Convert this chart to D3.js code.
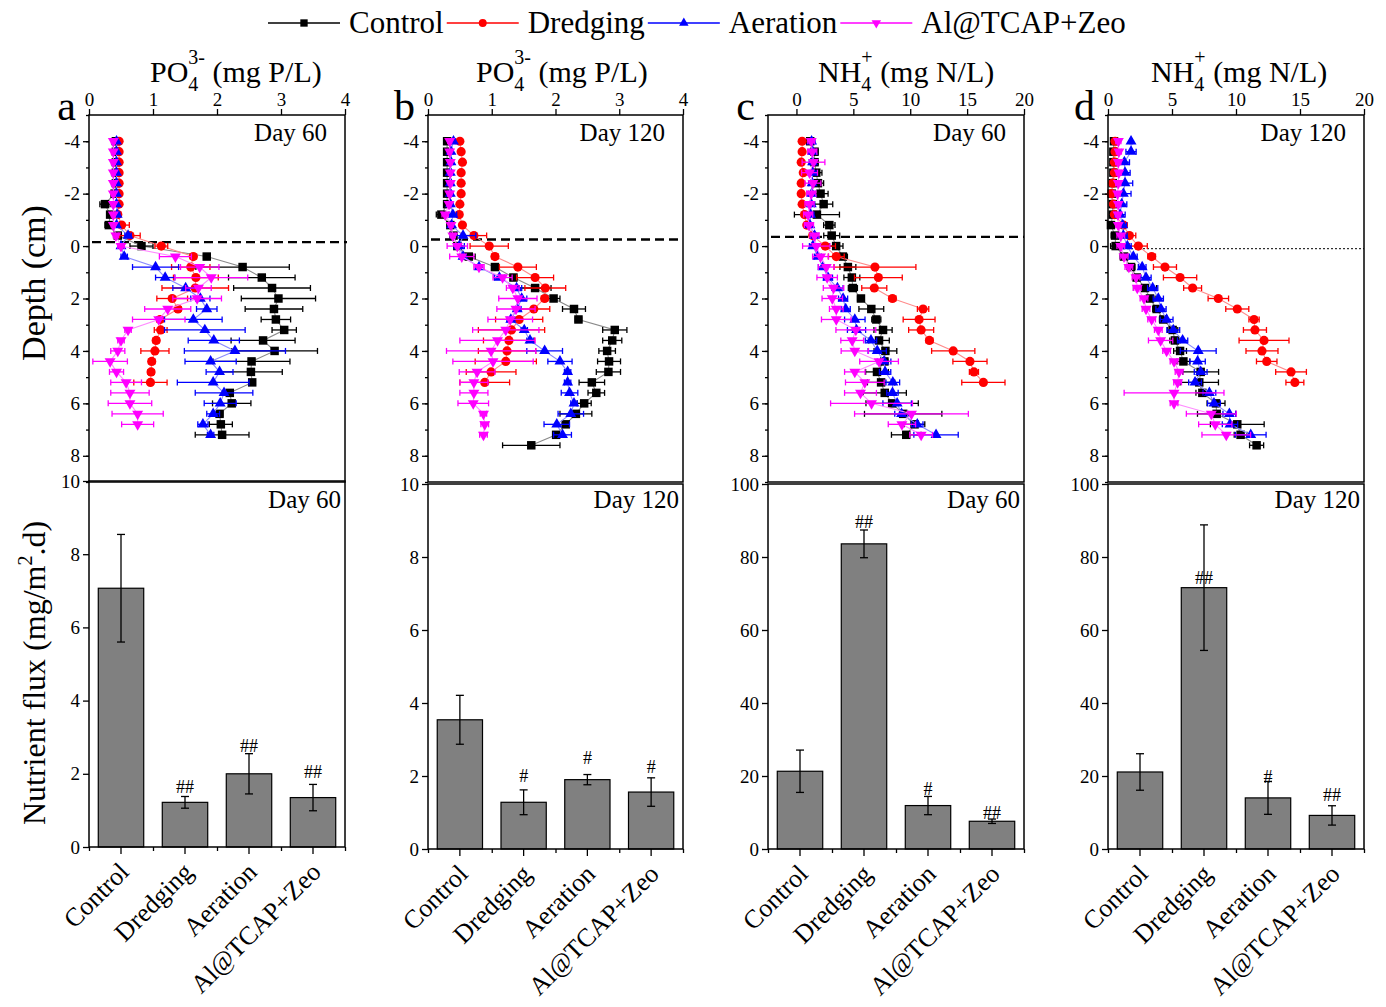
<!DOCTYPE html>
<html>
<head>
<meta charset="utf-8">
<script src="https://cdn.jsdelivr.net/npm/d3@7"></script>
<style>
  body { margin: 0; background: #fff; }
  text { font-family: "Liberation Serif", "Times New Roman", serif; fill: #000; }
</style>
</head>
<body>
<svg id="chart" width="1386" height="1007"></svg>
<script>
// ---------- data ----------
// sampling depths of the pore-water profiles (cm, negative = overlying water)
const depth = d3.range(30).map(i => +(-4 + 0.4 * i).toFixed(1));
const treatments = ["Control", "Dredging", "Aeration", "Al@TCAP+Zeo"];

// PO4 profiles, day 60 (mg P/L)
const aCtrl   = [0.42,0.42,0.42,0.42,0.42,0.40,0.25,0.33,0.31,0.45,0.82,1.84,2.40,2.70,2.86,2.96,2.89,2.92,3.05,2.72,2.90,2.54,2.53,2.55,2.20,2.23,2.04,2.06,2.08];
const aCtrlSd = [0.02,0.02,0.02,0.02,0.02,0.02,0.08,0.05,0.06,0.05,0.18,0.05,0.73,0.52,0.60,0.58,0.45,0.23,0.19,0.50,0.67,0.60,0.49,0.05,0.05,0.30,0.05,0.18,0.42];
const aDred   = [0.47,0.47,0.47,0.47,0.47,0.47,0.47,0.45,0.51,0.64,1.13,1.63,1.59,1.67,1.66,1.30,1.39,1.11,1.12,1.05,1.03,0.98,0.97,0.96];
const aDredSd = [0.02,0.02,0.02,0.02,0.02,0.02,0.02,0.02,0.12,0.16,0.10,0.05,0.30,0.35,0.52,0.24,0.05,0.05,0.10,0.05,0.22,0.05,0.05,0.26];
const aAer    = [0.43,0.43,0.43,0.43,0.43,0.43,0.43,0.44,0.43,0.61,0.50,0.55,1.04,1.19,1.51,1.74,1.84,1.63,1.81,1.95,2.28,1.90,2.04,1.94,2.11,2.05,1.94,1.78,1.90];
const aAerSd  = [0.03,0.03,0.03,0.03,0.03,0.03,0.03,0.04,0.04,0.05,0.05,0.05,0.36,0.15,0.20,0.15,0.16,0.45,0.63,0.40,0.79,0.40,0.21,0.56,0.45,0.25,0.10,0.08,0.05];
const aAl     = [0.38,0.38,0.38,0.38,0.38,0.38,0.38,0.38,0.38,0.42,0.50,1.35,1.73,1.91,1.71,1.69,1.23,1.09,0.61,0.50,0.45,0.33,0.43,0.58,0.64,0.64,0.76,0.76];
const aAlSd   = [0.03,0.03,0.03,0.03,0.03,0.03,0.03,0.03,0.03,0.04,0.05,0.25,0.30,0.57,0.20,0.38,0.36,0.41,0.05,0.05,0.11,0.27,0.11,0.24,0.30,0.34,0.40,0.25];

// PO4 profiles, day 120 (mg P/L)
const bCtrl   = [0.30,0.30,0.30,0.30,0.30,0.30,0.30,0.21,0.35,0.40,0.46,0.64,1.05,1.34,1.68,1.97,2.29,2.36,2.93,2.89,2.81,2.84,2.83,2.57,2.64,2.45,2.32,2.16,2.01,1.62];
const bCtrlSd = [0.02,0.02,0.02,0.02,0.02,0.02,0.02,0.08,0.03,0.03,0.05,0.10,0.05,0.05,0.25,0.10,0.18,0.05,0.19,0.15,0.13,0.18,0.19,0.20,0.13,0.11,0.25,0.05,0.05,0.45];
const bDred   = [0.50,0.52,0.54,0.52,0.52,0.52,0.50,0.49,0.54,0.72,0.96,1.05,1.41,1.68,1.84,1.83,1.66,1.43,1.31,1.27,1.24,1.22,0.99,0.89];
const bDredSd = [0.02,0.02,0.02,0.02,0.02,0.02,0.02,0.02,0.02,0.20,0.30,0.05,0.29,0.29,0.32,0.05,0.25,0.37,0.52,0.40,0.45,0.48,0.39,0.39];
const bAer    = [0.40,0.36,0.36,0.35,0.35,0.35,0.35,0.39,0.37,0.55,0.49,0.55,0.80,1.12,1.39,1.47,1.40,1.30,1.51,1.60,1.83,2.07,2.19,2.19,2.22,2.29,2.24,2.02,2.11];
const bAerSd  = [0.03,0.03,0.03,0.04,0.05,0.04,0.04,0.06,0.03,0.20,0.08,0.05,0.05,0.08,0.08,0.08,0.06,0.06,0.05,0.05,0.28,0.19,0.05,0.05,0.13,0.05,0.20,0.20,0.14];
const bAl     = [0.34,0.34,0.35,0.35,0.35,0.34,0.33,0.27,0.36,0.39,0.46,0.53,0.80,1.17,1.33,1.41,1.38,1.29,1.22,1.09,0.99,1.02,0.77,0.72,0.72,0.71,0.87,0.89,0.87];
const bAlSd   = [0.03,0.03,0.03,0.03,0.03,0.03,0.03,0.05,0.03,0.04,0.16,0.19,0.08,0.15,0.10,0.30,0.30,0.35,0.52,0.59,0.70,0.63,0.28,0.22,0.22,0.24,0.05,0.06,0.06];

// NH4 profiles, day 60 (mg N/L)
const cCtrl   = [1.21,1.59,1.59,1.74,1.89,2.12,2.39,1.80,2.89,3.10,3.49,4.08,4.52,4.87,4.96,5.67,6.58,7.02,7.61,7.26,7.82,7.73,7.08,7.44,7.76,8.41,9.38,10.38,9.65];
const cCtrlSd = [0.3,0.3,0.3,0.5,0.5,0.66,0.8,1.98,0.5,0.7,0.6,0.4,0.7,0.7,0.4,0.3,1.09,0.4,0.8,0.9,1.0,0.3,1.0,1.2,1.9,2.3,3.4,0.9,1.3];
const cDred   = [0.50,0.50,0.42,0.60,0.42,0.42,0.50,0.71,0.91,1.44,2.53,3.50,6.90,7.20,6.84,8.44,11.13,10.78,10.96,11.69,13.78,15.25,15.60,16.43];
const cDredSd = [0.1,0.1,0.1,0.1,0.1,0.1,0.1,0.1,0.1,0.3,0.9,0.7,3.6,2.1,1.1,0.3,0.5,1.4,1.1,0.3,1.9,1.5,0.4,1.9];
const cAer    = [1.33,1.42,1.42,1.42,1.38,1.35,1.30,1.24,1.18,1.59,1.44,1.88,2.33,2.77,3.60,4.10,4.33,5.13,5.28,6.55,7.10,7.70,7.79,8.47,8.44,8.85,9.24,10.62,12.27];
const cAerSd  = [0.3,0.3,0.3,0.3,0.3,0.3,0.3,0.3,0.3,0.3,0.3,0.3,0.4,0.4,0.5,0.4,0.4,0.9,0.8,0.5,0.8,0.6,0.5,0.6,0.5,1.25,0.6,0.5,1.95];
const cAl     = [1.30,1.39,1.50,1.15,1.45,1.30,1.15,1.03,1.10,1.59,1.74,2.12,2.62,2.70,3.26,3.15,3.50,3.50,5.22,4.90,5.13,7.26,5.13,6.01,5.63,6.60,10.11,9.27,10.96];
const cAlSd   = [0.3,0.4,1.0,0.7,0.7,0.4,0.4,0.4,0.4,0.4,1.2,0.7,0.7,0.9,0.9,0.9,0.6,1.3,1.75,1.0,1.2,1.7,0.9,1.7,1.4,3.6,5.0,1.2,1.0];

// NH4 profiles, day 120 (mg N/L)
const dCtrl   = [0.47,0.42,0.42,0.42,0.37,0.29,0.37,0.37,0.23,0.55,0.60,1.25,1.80,2.24,2.89,3.28,3.80,4.32,5.05,5.23,5.63,5.89,7.24,7.13,7.37,8.44,8.49,10.10,10.36,11.61];
const dCtrlSd = [0.2,0.2,0.2,0.2,0.2,0.2,0.2,0.2,0.2,0.3,0.4,0.3,0.3,0.3,0.9,0.4,0.3,0.3,0.4,0.4,0.5,0.5,1.4,1.5,0.5,0.7,1.5,2.1,0.5,0.55];
const dDred   = [0.55,0.55,0.50,0.50,0.37,0.29,0.42,0.50,1.20,1.67,2.37,3.41,4.45,5.63,6.61,8.62,10.10,11.41,11.48,12.19,12.03,12.40,14.30,14.60];
const dDredSd = [0.2,0.2,0.2,0.2,0.2,0.2,0.2,0.2,0.3,0.5,0.7,0.3,0.9,1.3,0.7,0.8,0.9,0.4,0.9,1.95,1.25,0.8,1.2,0.7];
const dAer    = [1.80,1.80,1.28,1.33,1.33,1.20,1.07,0.94,1.15,1.20,1.51,1.98,2.67,2.97,3.49,3.93,4.14,4.58,5.10,5.83,7.05,7.00,7.24,6.80,7.92,8.28,9.48,9.53,11.15];
const dAerSd  = [0.1,0.4,0.4,0.4,0.6,0.6,0.4,0.4,0.3,0.3,0.3,0.3,0.3,0.4,0.4,0.4,0.4,0.5,0.5,0.4,1.4,0.6,0.5,0.5,0.5,0.5,0.5,0.6,1.2];
const dAl     = [0.81,0.85,0.80,0.85,0.80,0.75,0.80,0.78,0.80,1.00,1.00,1.25,1.63,2.19,2.29,2.81,2.97,3.41,3.93,4.11,4.58,5.16,5.55,5.44,5.16,5.16,8.07,8.38,9.24];
const dAlSd   = [0.2,0.2,0.2,0.2,0.2,0.2,0.2,0.2,0.2,0.3,0.3,0.3,0.3,0.3,0.3,0.3,0.3,0.3,0.3,0.95,0.3,0.3,0.3,0.3,3.9,0.3,1.95,1.3,1.9];

// sediment-water interface depth marked in each profile panel (cm)
const interfaceDepth = [-0.15, -0.25, -0.35, 0.1];

// nutrient fluxes across the interface (mg/m2.d)
const fluxP60    = [7.07, 1.22, 2.00, 1.35];
const fluxP60Sd  = [1.47, 0.16, 0.55, 0.36];
const fluxP120   = [3.54, 1.28, 1.90, 1.56];
const fluxP120Sd = [0.67, 0.34, 0.14, 0.39];
const fluxN60    = [21.3, 83.6, 11.9, 7.6];
const fluxN60Sd  = [5.8, 3.8, 2.5, 0.6];
const fluxN120   = [21.1, 71.6, 14.0, 9.2];
const fluxN120Sd = [5.0, 17.2, 4.5, 2.65];

// significance marks and the flux level each mark sits at
const sigP60  = ["", "##", "##", "##"];
const sigP120 = ["", "#", "#", "#"];
const sigN60  = ["", "##", "#", "##"];
const sigN120 = ["", "##", "#", "##"];
const sigLevelP60  = [null, 1.65, 2.77, 2.04];
const sigLevelP120 = [null, 2.01, 2.49, 2.26];
const sigLevelN60  = [null, 89.6, 16.4, 9.8];
const sigLevelN120 = [null, 74.3, 19.6, 14.8];

// axis ticks
const poTicks = [0, 1, 2, 3, 4];
const nhTicks = [0, 5, 10, 15, 20];
const depthTicks = [-4, -2, 0, 2, 4, 6, 8];
const poFluxTicks = [0, 2, 4, 6, 8, 10];
const nhFluxTicks = [0, 20, 40, 60, 80, 100];

// ---------- layout & styles ----------
const svg = d3.select("#chart");
const colors = ["#000000", "#ff0000", "#0000ff", "#ff00ff"];
const lineColors = ["#8a8a8a", "#ff8a8a", "#8a8aff", "#ff8aff"];
const symTypes = [d3.symbolSquare, d3.symbolCircle, d3.symbolTriangle, d3.symbolTriangle];
const symRotate = [0, 0, 0, 180];
const symSize = [72, 66, 52, 52];

const TOP_Y0 = 115, TOP_Y1 = 482;
const FONT = "'Liberation Serif', 'Times New Roman', serif";
const plain = d => String(d);   // plain integers with ASCII hyphen for negatives

const panels = [
  { letter: "a", left: 89,   right: 345,  xDomain: [0, 4],     xTicks: poTicks, ion: "PO", sup: "3-", unit: " (mg P/L)", titleX: 150,
    prof: [aCtrl, aDred, aAer, aAl], sd: [aCtrlSd, aDredSd, aAerSd, aAlSd], day: "Day 60", dash: "9,5", dashW: 2.4,
    flux: fluxP60, fluxSd: fluxP60Sd, sig: sigP60, sigLevel: sigLevelP60, fluxTicks: poFluxTicks, base: 847, top: 481 },
  { letter: "b", left: 428,  right: 683,  xDomain: [0, 4],     xTicks: poTicks, ion: "PO", sup: "3-", unit: " (mg P/L)", titleX: 476,
    prof: [bCtrl, bDred, bAer, bAl], sd: [bCtrlSd, bDredSd, bAerSd, bAlSd], day: "Day 120", dash: "9,5", dashW: 2.4,
    flux: fluxP120, fluxSd: fluxP120Sd, sig: sigP120, sigLevel: sigLevelP120, fluxTicks: poFluxTicks, base: 849, top: 484 },
  { letter: "c", left: 768,  right: 1024, xDomain: [-2.5, 20], xTicks: nhTicks, ion: "NH", sup: "+", unit: " (mg N/L)", titleX: 818,
    prof: [cCtrl, cDred, cAer, cAl], sd: [cCtrlSd, cDredSd, cAerSd, cAlSd], day: "Day 60", dash: "9,5", dashW: 2.4,
    flux: fluxN60, fluxSd: fluxN60Sd, sig: sigN60, sigLevel: sigLevelN60, fluxTicks: nhFluxTicks, base: 849, top: 484 },
  { letter: "d", left: 1108, right: 1364, xDomain: [0, 20],    xTicks: nhTicks, ion: "NH", sup: "+", unit: " (mg N/L)", titleX: 1151,
    prof: [dCtrl, dDred, dAer, dAl], sd: [dCtrlSd, dDredSd, dAerSd, dAlSd], day: "Day 120", dash: "2,2", dashW: 1,
    flux: fluxN120, fluxSd: fluxN120Sd, sig: sigN120, sigLevel: sigLevelN120, fluxTicks: nhFluxTicks, base: 849, top: 484 }
];

function styleAxis(g, size) {
  g.select(".domain").remove();
  g.selectAll(".tick line").attr("stroke", "#000").attr("stroke-width", 1.3);
  g.selectAll(".tick text").attr("font-family", FONT).attr("font-size", size || 19).attr("fill", "#000");
}

function symbolPath(i, scale) {
  return d3.symbol().type(symTypes[i]).size(symSize[i] * (scale || 1))();
}

panels.forEach((p, pi) => {
  const g = svg.append("g");
  const x = d3.scaleLinear().domain(p.xDomain).range([p.left, p.right]);
  const y = d3.scaleLinear().domain([-5, 9]).range([TOP_Y0, TOP_Y1]);

  // ---- depth-profile panel ----
  // top concentration axis
  g.append("g").attr("transform", `translate(0,${TOP_Y0})`)
    .call(d3.axisTop(x).tickValues(p.xTicks).tickSize(6).tickPadding(3).tickFormat(plain))
    .call(a => styleAxis(a));
  // depth axis: labelled even depths, minor ticks every cm
  g.append("g").attr("transform", `translate(${p.left},0)`)
    .call(d3.axisLeft(y).tickValues(d3.range(-5, 10)).tickSize(3).tickFormat(""))
    .call(a => styleAxis(a));
  g.append("g").attr("transform", `translate(${p.left},0)`)
    .call(d3.axisLeft(y).tickValues(depthTicks).tickSize(6).tickPadding(3).tickFormat(plain))
    .call(a => styleAxis(a));

  // sediment-water interface
  g.append("line")
    .attr("x1", p.left + 3).attr("x2", p.right + (pi === 0 ? 2 : 0))
    .attr("y1", y(interfaceDepth[pi])).attr("y2", y(interfaceDepth[pi]))
    .attr("stroke", "#000").attr("stroke-width", p.dashW).attr("stroke-dasharray", p.dash);

  // profiles
  p.prof.forEach((vals, s) => {
    const pts = vals.map((v, k) => ({ d: depth[k], v, e: p.sd[s][k] }));
    const sg = g.append("g");
    sg.append("path").datum(pts)
      .attr("d", d3.line().x(d => x(d.v)).y(d => y(d.d)))
      .attr("fill", "none").attr("stroke", lineColors[s]).attr("stroke-width", 1.1);
    const eb = sg.append("g").attr("stroke", colors[s]).attr("stroke-width", 1.3);
    pts.forEach(d => {
      const yy = y(d.d), x0 = x(d.v - d.e), x1 = x(d.v + d.e);
      eb.append("line").attr("x1", x0).attr("x2", x1).attr("y1", yy).attr("y2", yy);
      eb.append("line").attr("x1", x0).attr("x2", x0).attr("y1", yy - 3).attr("y2", yy + 3);
      eb.append("line").attr("x1", x1).attr("x2", x1).attr("y1", yy - 3).attr("y2", yy + 3);
    });
    sg.selectAll("path.mk").data(pts).enter().append("path")
      .attr("class", "mk")
      .attr("d", symbolPath(s))
      .attr("transform", d => `translate(${x(d.v)},${y(d.d)}) rotate(${symRotate[s]})`)
      .attr("fill", colors[s]);
  });

  // frame
  g.append("rect").attr("x", p.left).attr("y", TOP_Y0)
    .attr("width", p.right - p.left).attr("height", TOP_Y1 - TOP_Y0)
    .attr("fill", "none").attr("stroke", "#000").attr("stroke-width", 1.5);

  g.append("text").attr("x", p.right - 18).attr("y", 141)
    .attr("text-anchor", "end").attr("font-size", 25).text(p.day);

  // panel letter
  g.append("text").attr("x", p.left - 13).attr("y", 120)
    .attr("text-anchor", "end").attr("font-size", 42).text(p.letter);

  // panel title with stacked sub/superscript
  const t = g.append("text").attr("x", p.titleX).attr("y", 82).attr("font-size", 30);
  t.append("tspan").text(p.ion);
  t.append("tspan").attr("font-size", 20).attr("dy", 9).text("4");
  t.append("tspan").attr("font-size", 20).attr("dx", -10).attr("dy", -27).text(p.sup);
  t.append("tspan").attr("dy", 18).text(p.unit);

  // ---- flux bar panel ----
  const bx = d3.scaleBand().domain(treatments).range([p.left, p.right]).paddingInner(0.29).paddingOuter(0.145);
  const fmax = p.fluxTicks[p.fluxTicks.length - 1];
  const by = d3.scaleLinear().domain([0, fmax]).range([p.base, p.top]);

  g.append("g").attr("transform", `translate(${p.left},0)`)
    .call(d3.axisLeft(by).tickValues(p.fluxTicks).tickSize(6).tickPadding(3).tickFormat(plain))
    .call(a => styleAxis(a));
  // category ticks at bar centres, minor ticks at band edges
  const edges = d3.range(5).map(k => p.left + k * (p.right - p.left) / 4);
  g.append("g").attr("transform", `translate(0,${p.base})`)
    .call(d3.axisBottom(d3.scaleIdentity()).tickValues(edges).tickSize(4).tickFormat(""))
    .call(a => styleAxis(a));
  g.append("g").attr("transform", `translate(0,${p.base})`)
    .call(d3.axisBottom(bx).tickSize(7).tickFormat(""))
    .call(a => styleAxis(a));

  treatments.forEach((tr, k) => {
    const v = p.flux[k], e = p.fluxSd[k];
    g.append("rect")
      .attr("x", bx(tr)).attr("width", bx.bandwidth())
      .attr("y", by(v)).attr("height", by(0) - by(v))
      .attr("fill", "#808080").attr("stroke", "#000").attr("stroke-width", 1.2);
    const cx = bx(tr) + bx.bandwidth() / 2;
    const eg = g.append("g").attr("stroke", "#000").attr("stroke-width", 1.3);
    eg.append("line").attr("x1", cx).attr("x2", cx).attr("y1", by(v - e)).attr("y2", by(v + e));
    eg.append("line").attr("x1", cx - 4).attr("x2", cx + 4).attr("y1", by(v - e)).attr("y2", by(v - e));
    eg.append("line").attr("x1", cx - 4).attr("x2", cx + 4).attr("y1", by(v + e)).attr("y2", by(v + e));
    if (p.sig[k]) {
      g.append("text").attr("x", cx).attr("y", by(p.sigLevel[k]) + 6)
        .attr("text-anchor", "middle").attr("font-size", 18).attr("fill", "#333").text(p.sig[k]);
    }
    g.append("text")
      .attr("transform", `translate(${cx + 3},${p.base + 20}) rotate(-45)`)
      .attr("text-anchor", "end").attr("dy", "0.35em").attr("font-size", 26).text(tr);
  });

  g.append("rect").attr("x", p.left).attr("y", p.top)
    .attr("width", p.right - p.left).attr("height", p.base - p.top)
    .attr("fill", "none").attr("stroke", "#000").attr("stroke-width", 1.5);

  g.append("text").attr("x", p.right - 4).attr("y", 508)
    .attr("text-anchor", "end").attr("font-size", 25).text(p.day);
});

// ---------- axis titles ----------
svg.append("text").attr("transform", "translate(45,283) rotate(-90)")
  .attr("text-anchor", "middle").attr("font-size", 34).text("Depth (cm)");
const ft = svg.append("text").attr("transform", "translate(45,673) rotate(-90)")
  .attr("text-anchor", "middle").attr("font-size", 32);
ft.append("tspan").text("Nutrient flux (mg/m");
ft.append("tspan").attr("font-size", 20).attr("dy", -13).text("2");
ft.append("tspan").attr("dy", 13).text(".d)");

// ---------- legend ----------
let lx = 268;
treatments.forEach((tr, s) => {
  const lg = svg.append("g");
  lg.append("line").attr("x1", lx).attr("x2", lx + 72).attr("y1", 23).attr("y2", 23)
    .attr("stroke", colors[s]).attr("stroke-width", 1.3);
  lg.append("path").attr("d", symbolPath(s, 0.75))
    .attr("transform", `translate(${lx + 36},23) rotate(${symRotate[s]})`).attr("fill", colors[s]);
  const txt = lg.append("text").attr("x", lx + 81).attr("y", 33).attr("font-size", 31).text(tr);
  lx = lx + 81 + txt.node().getComputedTextLength() + 3;
});
</script>
</body>
</html>
